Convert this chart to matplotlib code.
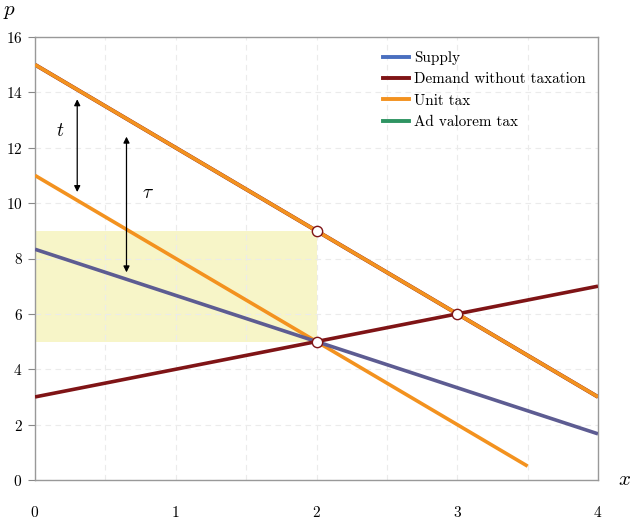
import matplotlib
matplotlib.use("Agg")
import matplotlib.pyplot as plt
import numpy as np

plt.rcParams['font.family'] = 'serif'
plt.rcParams['font.serif'] = ['cmr10']
plt.rcParams['mathtext.fontset'] = 'cm'
plt.rcParams['axes.formatter.use_mathtext'] = True

# data
x_supply = [0, 4]
p_supply = [25/3, 5/3]
x_demand = [0, 4]
p_demand = [3, 7]
x_demand_high = [0, 4]
p_demand_high = [15, 3]
x_unit_high = [0, 4]
p_unit_high = [15, 3]
x_unit_low = [0, 3.5]
p_unit_low = [11, 0.5]
points_x = [2, 2, 3]
points_y = [9, 5, 6]
rect_x = [0, 2]
rect_y = [5, 9]
t_arrow = (0.3, 10.4, 13.75)
tau_arrow = (0.65, 7.5, 12.4)
xticks = [0, 1, 2, 3, 4]
yticks = [0, 2, 4, 6, 8, 10, 12, 14, 16]

fig = plt.figure(figsize=(6.3, 5.21), dpi=100)
ax = fig.add_axes([35/630, 41/521, 563/630, 443/521])
ax.set_xlim(0, 4)
ax.set_ylim(0, 16)

ax.fill_between(rect_x, rect_y[0], rect_y[1], color='#f7f5c8', zorder=1, lw=0)

ax.plot(x_demand_high, p_demand_high, color='#7f1416', lw=2.8, zorder=2, solid_capstyle='butt')
ax.plot(x_unit_high, p_unit_high, color='#f3921f', lw=2.6, zorder=3, solid_capstyle='butt')
ax.plot(x_unit_low, p_unit_low, color='#f3921f', lw=2.6, zorder=3, solid_capstyle='butt')
ax.plot(x_supply, p_supply, color='#5d5c92', lw=2.6, zorder=3, solid_capstyle='butt')
ax.plot(x_demand, p_demand, color='#7f1416', lw=2.6, zorder=4, solid_capstyle='butt')

ax.scatter(points_x, points_y, s=55, facecolor='white', edgecolor='#7f1416', lw=1.0, zorder=6)

for (xa, y0, y1) in [t_arrow, tau_arrow]:
    ax.annotate('', xy=(xa, y1), xytext=(xa, y0),
                arrowprops=dict(arrowstyle='<|-|>', color='black', lw=0.9,
                                mutation_scale=9, shrinkA=0, shrinkB=0), zorder=5)
ax.text(0.18, 12.6, r'$t$', fontsize=14, ha='center', va='center')
ax.text(0.8, 10.35, r'$\tau$', fontsize=14, ha='center', va='center')

# legend proxies
h1, = ax.plot([], [], color='#4a6fbf', lw=2.8, label='Supply')
h2, = ax.plot([], [], color='#7f1416', lw=2.8, label='Demand without taxation')
h3, = ax.plot([], [], color='#f3921f', lw=2.8, label='Unit tax')
h4, = ax.plot([], [], color='#2e9462', lw=2.8, label='Ad valorem tax')
ax.legend(handles=[h1, h2, h3, h4], loc='upper right', frameon=False,
          fontsize=10.9, handlelength=1.7, handletextpad=0.3, labelspacing=0.5,
          bbox_to_anchor=(1.002, 0.999))

ax.set_xticks(xticks)
ax.set_yticks(yticks)
ax.set_xticks(np.arange(0, 4.01, 0.5), minor=True)
ax.grid(True, which='major', color='#ebebeb', ls=(0, (5, 4)), lw=0.8)
ax.grid(True, which='minor', axis='x', color='#ebebeb', ls=(0, (5, 4)), lw=0.8)
ax.tick_params(axis='x', which='both', length=0, pad=18, labelsize=11)
ax.tick_params(axis='y', which='major', length=5, width=0.8, color='#888888', labelsize=11, pad=4)
for s in ax.spines.values():
    s.set_color('#999999')
    s.set_linewidth(1.0)

fig.text(625/630, 1 - 480/521, r'$x$', fontsize=15, ha='center', va='center')
fig.text(10/630, 1 - 12/521, r'$p$', fontsize=15, ha='center', va='center')

fig.savefig('out.png', dpi=100)
